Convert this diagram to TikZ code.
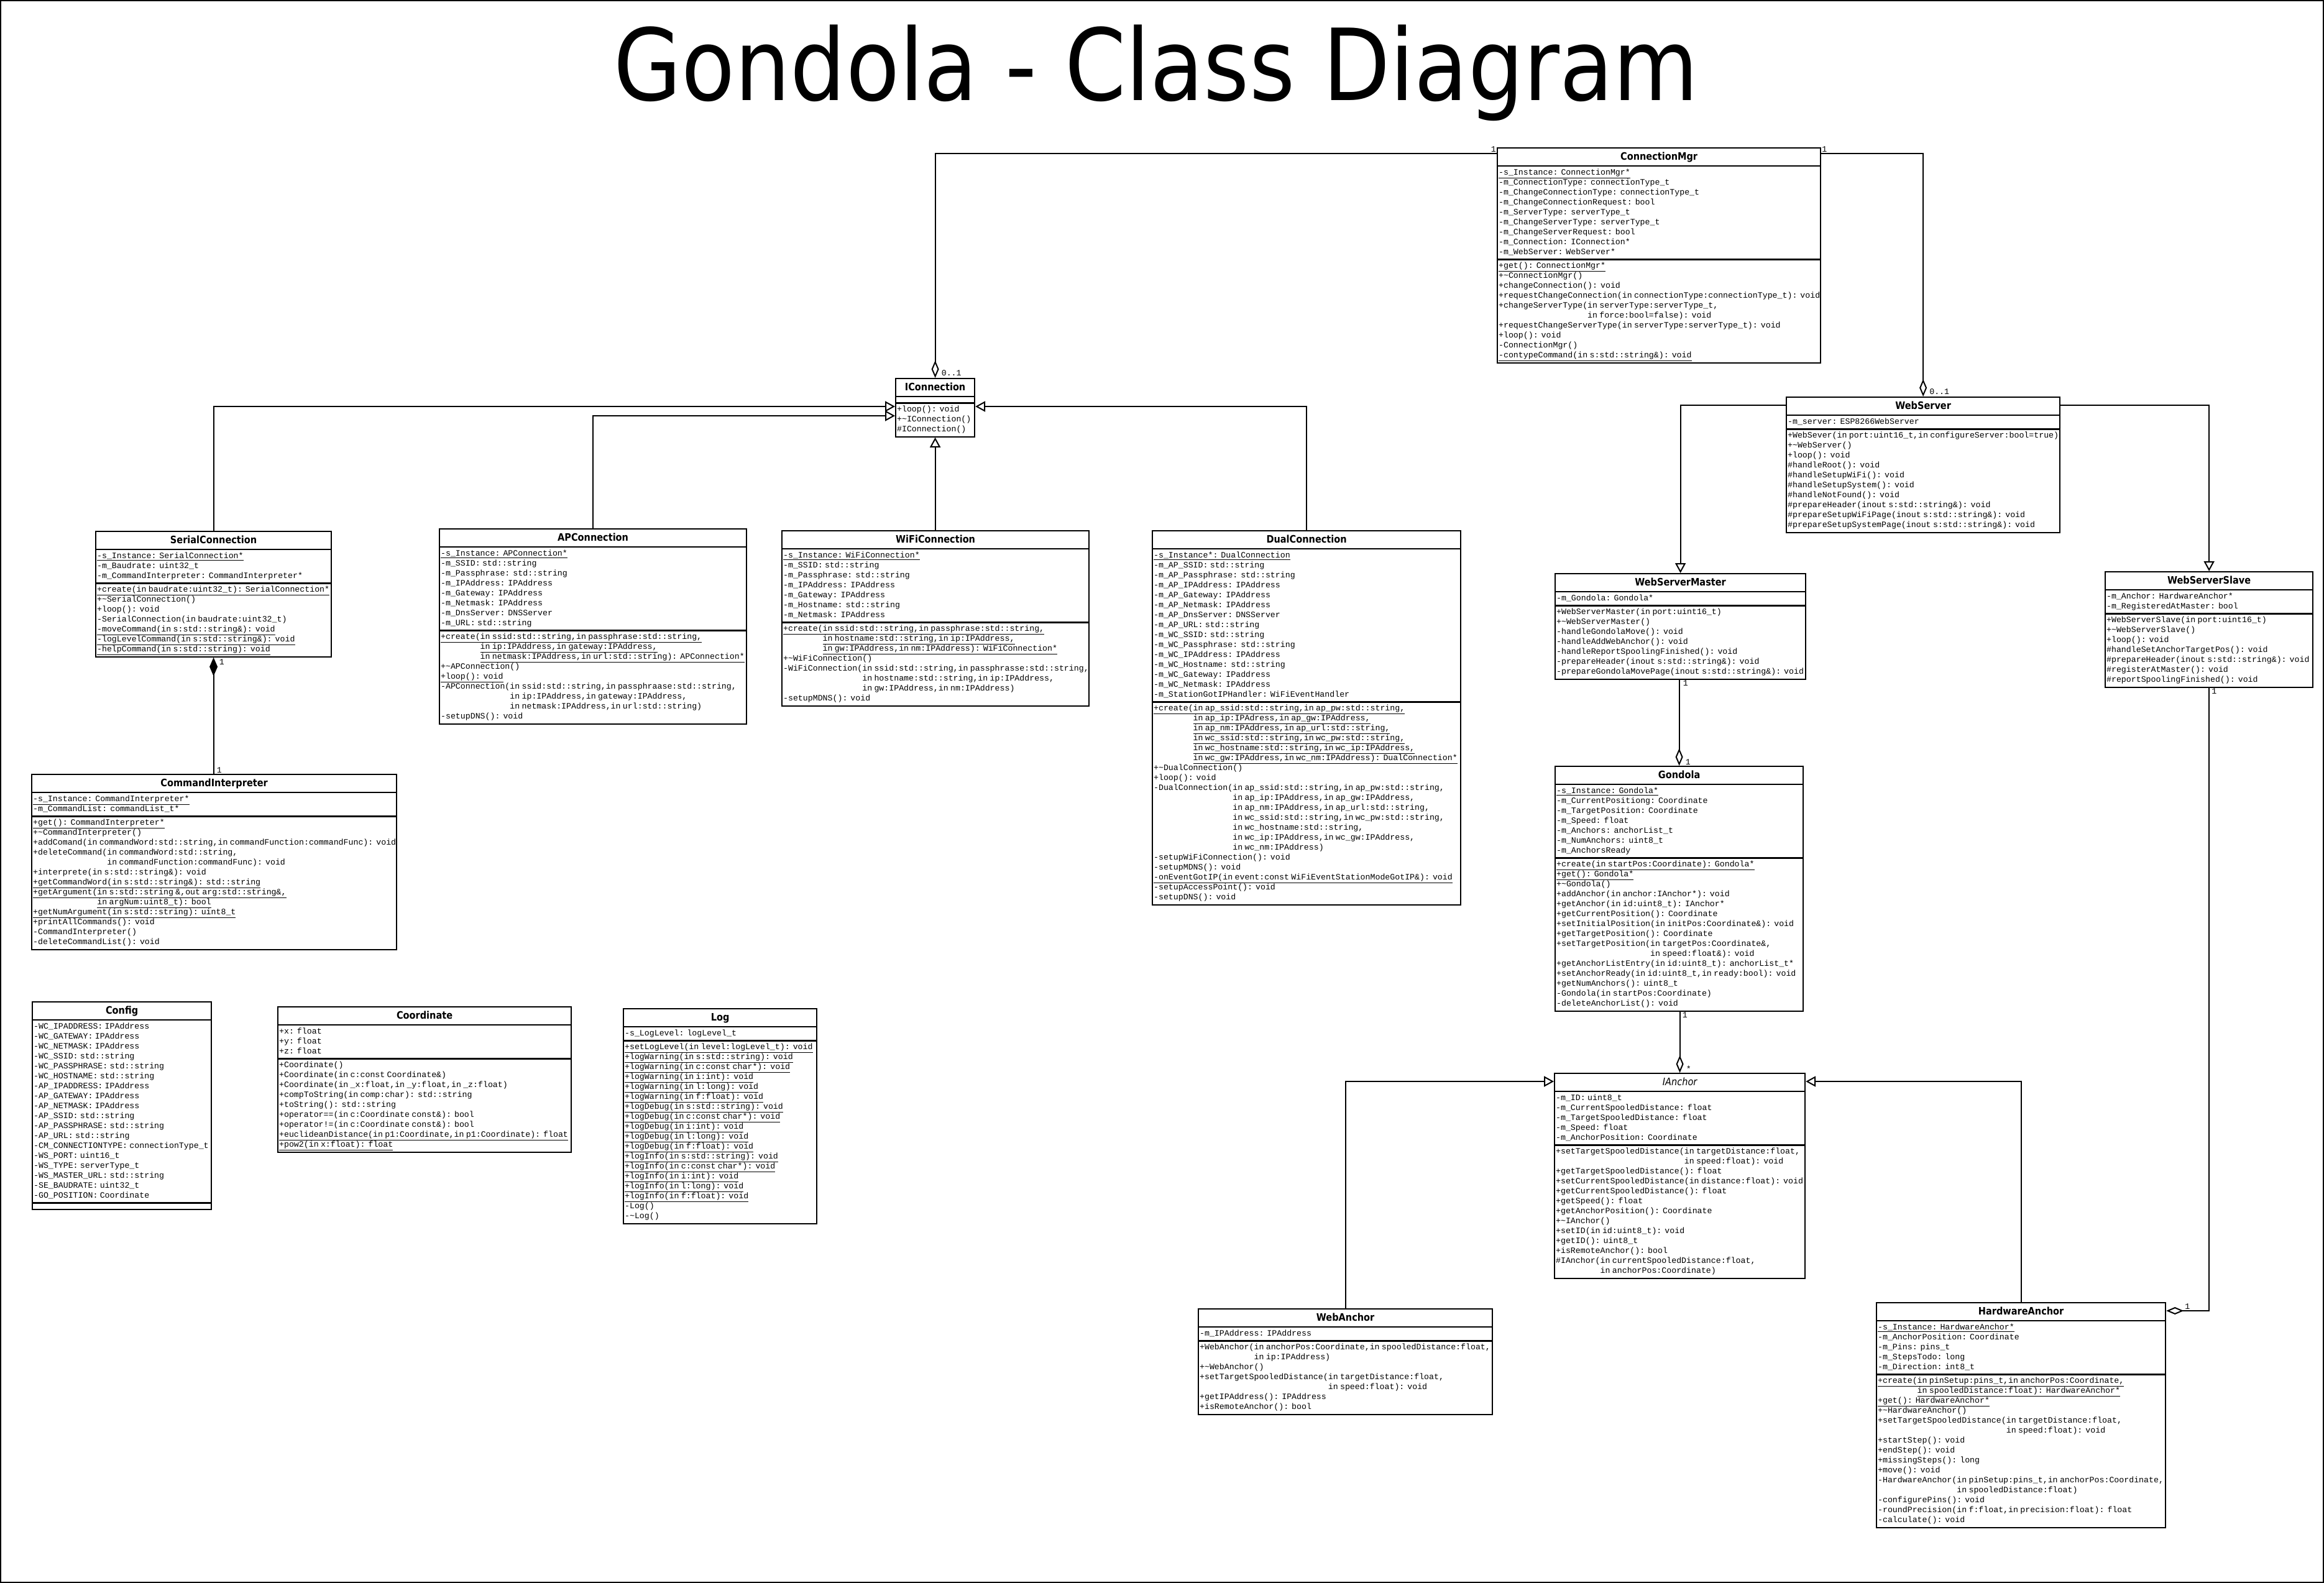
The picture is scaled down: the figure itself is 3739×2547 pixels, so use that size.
\documentclass[tikz,border=0pt]{standalone}
\usepackage{fontspec}
\setmonofont{Liberation Mono}
\newfontfamily\headfont{DejaVu Sans}[FakeStretch=0.88]
\usetikzlibrary{shapes.multipart,arrows.meta}
\newcommand\tld{\textasciitilde}
\newcommand\stat[1]{\underline{#1}}
\newcommand\ind[1]{\hspace*{\dimexpr0.6em*#1\relax}}
\newcommand\memfont{\ttfamily\fontsize{13.25}{16}\selectfont}
\newcommand\ctitle[1]{\noindent\hbox to\hsize{\hss{\headfont\fontsize{16.5}{20}\selectfont\bfseries #1}\rule[-7pt]{0pt}{23pt}\hss}}
\newcommand\atitle[1]{\noindent\hbox to\hsize{\hss{\headfont\fontsize{16.5}{20}\selectfont\itshape #1}\rule[-7pt]{0pt}{23pt}\hss}}
\newcommand\mems[1]{{\memfont\noindent\begin{tabular}{@{}l@{}}#1\end{tabular}}}
\newcommand\nomems{\noindent\rule{0pt}{4pt}}
\begin{document}
\begin{tikzpicture}[x=1pt,y=-1pt,
  umlclass/.style={draw,line width=2.2pt,rectangle split,rectangle split parts=3,anchor=north west,inner xsep=2pt,inner ysep=2pt,align=left},
  link/.style={line width=2pt},
  gen/.style={link,{Triangle[open,length=16pt,width=17pt]}-},
  aggr/.style={link,{Diamond[open,length=28pt,width=12pt]}-},
  comp/.style={link,{Diamond[length=30pt,width=13pt]}-},
  mult/.style={font=\memfont,inner sep=1pt}]
\useasboundingbox (0,0) rectangle (3739,2547);
\draw[line width=2pt] (1,1) rectangle (3738,2546);
\node[anchor=base,font=\headfont\fontsize{160}{190}\selectfont] (title) at (1860,162) {Gondola - Class Diagram};

% connections
\node[umlclass,text width=516pt] (cmgr) at (2408,237) {\ctitle{ConnectionMgr}
\nodepart{two}\mems{\stat{-s\_Instance: ConnectionMgr*}\\
-m\_ConnectionType: connectionType\_t\\
-m\_ChangeConnectionType: connectionType\_t\\
-m\_ChangeConnectionRequest: bool\\
-m\_ServerType: serverType\_t\\
-m\_ChangeServerType: serverType\_t\\
-m\_ChangeServerRequest: bool\\
-m\_Connection: IConnection*\\
-m\_WebServer: WebServer*}
\nodepart{three}\mems{\stat{+get(): ConnectionMgr*}\\
+\tld ConnectionMgr()\\
+changeConnection(): void\\
+requestChangeConnection(in connectionType:connectionType\_t): void\\
+changeServerType(in serverType:serverType\_t,\\
\ind{18}in force:bool=false): void\\
+requestChangeServerType(in serverType:serverType\_t): void\\
+loop(): void\\
-ConnectionMgr()\\
\stat{-contypeCommand(in s:std::string\&): void}}};

\node[umlclass,text width=123pt] (iconn) at (1440,608) {\ctitle{IConnection}
\nodepart{two}\nomems
\nodepart{three}\mems{+loop(): void\\
+\tld IConnection()\\
\#IConnection()}};

\node[umlclass,text width=375pt] (serial) at (153,854) {\ctitle{SerialConnection}
\nodepart{two}\mems{\stat{-s\_Instance: SerialConnection*}\\
-m\_Baudrate: uint32\_t\\
-m\_CommandInterpreter: CommandInterpreter*}
\nodepart{three}\mems{\stat{+create(in baudrate:uint32\_t): SerialConnection*}\\
+\tld SerialConnection()\\
+loop(): void\\
-SerialConnection(in baudrate:uint32\_t)\\
\stat{-moveCommand(in s:std::string\&): void}\\
\stat{-logLevelCommand(in s:std::string\&): void}\\
\stat{-helpCommand(in s:std::string): void}}};

\node[umlclass,text width=490pt] (apconn) at (706,850) {\ctitle{APConnection}
\nodepart{two}\mems{\stat{-s\_Instance: APConnection*}\\
-m\_SSID: std::string\\
-m\_Passphrase: std::string\\
-m\_IPAddress: IPAddress\\
-m\_Gateway: IPAddress\\
-m\_Netmask: IPAddress\\
-m\_DnsServer: DNSServer\\
-m\_URL: std::string}
\nodepart{three}\mems{\stat{+create(in ssid:std::string,in passphrase:std::string,}\\
\ind{8}\stat{in ip:IPAddress,in gateway:IPAddress,}\\
\ind{8}\stat{in netmask:IPAddress,in url:std::string): APConnection*}\\
+\tld APConnection()\\
\stat{+loop(): void}\\
-APConnection(in ssid:std::string,in passphraase:std::string,\\
\ind{14}in ip:IPAddress,in gateway:IPAddress,\\
\ind{14}in netmask:IPAddress,in url:std::string)\\
-setupDNS(): void}};

\node[umlclass,text width=490pt] (wifi) at (1257,853) {\ctitle{WiFiConnection}
\nodepart{two}\mems{\stat{-s\_Instance: WiFiConnection*}\\
-m\_SSID: std::string\\
-m\_Passphrase: std::string\\
-m\_IPAddress: IPAddress\\
-m\_Gateway: IPAddress\\
-m\_Hostname: std::string\\
-m\_Netmask: IPAddress}
\nodepart{three}\mems{\stat{+create(in ssid:std::string,in passphrase:std::string,}\\
\ind{8}\stat{in hostname:std::string,in ip:IPAddress,}\\
\ind{8}\stat{in gw:IPAddress,in nm:IPAddress): WiFiConnection*}\\
+\tld WiFiConnection()\\
-WiFiConnection(in ssid:std::string,in passphrasse:std::string,\\
\ind{16}in hostname:std::string,in ip:IPAddress,\\
\ind{16}in gw:IPAddress,in nm:IPAddress)\\
-setupMDNS(): void}};

\node[umlclass,text width=492pt] (dual) at (1853,853) {\ctitle{DualConnection}
\nodepart{two}\mems{\stat{-s\_Instance*: DualConnection}\\
-m\_AP\_SSID: std::string\\
-m\_AP\_Passphrase: std::string\\
-m\_AP\_IPAddress: IPAddress\\
-m\_AP\_Gateway: IPAddress\\
-m\_AP\_Netmask: IPAddress\\
-m\_AP\_DnsServer: DNSServer\\
-m\_AP\_URL: std::string\\
-m\_WC\_SSID: std::string\\
-m\_WC\_Passphrase: std::string\\
-m\_WC\_IPAddress: IPAddress\\
-m\_WC\_Hostname: std::string\\
-m\_WC\_Gateway: IPaddress\\
-m\_WC\_Netmask: IPAddress\\
-m\_StationGotIPHandler: WiFiEventHandler}
\nodepart{three}\mems{\stat{+create(in ap\_ssid:std::string,in ap\_pw:std::string,}\\
\ind{8}\stat{in ap\_ip:IPAdress,in ap\_gw:IPAddress,}\\
\ind{8}\stat{in ap\_nm:IPAddress,in ap\_url:std::string,}\\
\ind{8}\stat{in wc\_ssid:std::string,in wc\_pw:std::string,}\\
\ind{8}\stat{in wc\_hostname:std::string,in wc\_ip:IPAddress,}\\
\ind{8}\stat{in wc\_gw:IPAddress,in wc\_nm:IPAddress): DualConnection*}\\
+\tld DualConnection()\\
+loop(): void\\
-DualConnection(in ap\_ssid:std::string,in ap\_pw:std::string,\\
\ind{16}in ap\_ip:IPAddress,in ap\_gw:IPAddress,\\
\ind{16}in ap\_nm:IPAddress,in ap\_url:std::string,\\
\ind{16}in wc\_ssid:std::string,in wc\_pw:std::string,\\
\ind{16}in wc\_hostname:std::string,\\
\ind{16}in wc\_ip:IPAddress,in wc\_gw:IPAddress,\\
\ind{16}in wc\_nm:IPAddress)\\
-setupWiFiConnection(): void\\
-setupMDNS(): void\\
\stat{-onEventGotIP(in event:const WiFiEventStationModeGotIP\&): void}\\
-setupAccessPoint(): void\\
-setupDNS(): void}};

\node[umlclass,text width=583pt] (cmdint) at (50,1245) {\ctitle{CommandInterpreter}
\nodepart{two}\mems{\stat{-s\_Instance: CommandInterpreter*}\\
-m\_CommandList: commandList\_t*}
\nodepart{three}\mems{\stat{+get(): CommandInterpreter*}\\
+\tld CommandInterpreter()\\
+addComand(in commandWord:std::string,in commandFunction:commandFunc): void\\
+deleteCommand(in commandWord:std::string,\\
\ind{15}in commandFunction:commandFunc): void\\
+interprete(in s:std::string\&): void\\
\stat{+getCommandWord(in s:std::string\&): std::string}\\
\stat{+getArgument(in s:std::string \&,out arg:std::string\&,}\\
\ind{13}\stat{in argNum:uint8\_t): bool}\\
\stat{+getNumArgument(in s:std::string): uint8\_t}\\
+printAllCommands(): void\\
-CommandInterpreter()\\
-deleteCommandList(): void}};

% web servers
\node[umlclass,text width=436pt] (wsrv) at (2873,638) {\ctitle{WebServer}
\nodepart{two}\mems{-m\_server: ESP8266WebServer}
\nodepart{three}\mems{+WebSever(in port:uint16\_t,in configureServer:bool=true)\\
+\tld WebServer()\\
+loop(): void\\
\#handleRoot(): void\\
\#handleSetupWiFi(): void\\
\#handleSetupSystem(): void\\
\#handleNotFound(): void\\
\#prepareHeader(inout s:std::string\&): void\\
\#prepareSetupWiFiPage(inout s:std::string\&): void\\
\#prepareSetupSystemPage(inout s:std::string\&): void}};

\node[umlclass,text width=399pt] (wsm) at (2501,922) {\ctitle{WebServerMaster}
\nodepart{two}\mems{-m\_Gondola: Gondola*}
\nodepart{three}\mems{+WebServerMaster(in port:uint16\_t)\\
+\tld WebServerMaster()\\
-handleGondolaMove(): void\\
-handleAddWebAnchor(): void\\
-handleReportSpoolingFinished(): void\\
-prepareHeader(inout s:std::string\&): void\\
-prepareGondolaMovePage(inout s:std::string\&): void}};

\node[umlclass,text width=330pt] (wss) at (3386,919) {\ctitle{WebServerSlave}
\nodepart{two}\mems{-m\_Anchor: HardwareAnchor*\\
-m\_RegisteredAtMaster: bool}
\nodepart{three}\mems{+WebServerSlave(in port:uint16\_t)\\
+\tld WebServerSlave()\\
+loop(): void\\
\#handleSetAnchorTargetPos(): void\\
\#prepareHeader(inout s:std::string\&): void\\
\#registerAtMaster(): void\\
\#reportSpoolingFinished(): void}};

% gondola and anchors
\node[umlclass,text width=395pt] (gondola) at (2501,1232) {\ctitle{Gondola}
\nodepart{two}\mems{\stat{-s\_Instance: Gondola*}\\
-m\_CurrentPositiong: Coordinate\\
-m\_TargetPosition: Coordinate\\
-m\_Speed: float\\
-m\_Anchors: anchorList\_t\\
-m\_NumAnchors: uint8\_t\\
-m\_AnchorsReady}
\nodepart{three}\mems{\stat{+create(in startPos:Coordinate): Gondola*}\\
\stat{+get(): Gondola*}\\
+\tld Gondola()\\
+addAnchor(in anchor:IAnchor*): void\\
+getAnchor(in id:uint8\_t): IAnchor*\\
+getCurrentPosition(): Coordinate\\
+setInitialPosition(in initPos:Coordinate\&): void\\
+getTargetPosition(): Coordinate\\
+setTargetPosition(in targetPos:Coordinate\&,\\
\ind{19}in speed:float\&): void\\
+getAnchorListEntry(in id:uint8\_t): anchorList\_t*\\
+setAnchorReady(in id:uint8\_t,in ready:bool): void\\
+getNumAnchors(): uint8\_t\\
-Gondola(in startPos:Coordinate)\\
-deleteAnchorList(): void}};

\node[umlclass,text width=399pt] (ianchor) at (2500,1726) {\atitle{IAnchor}
\nodepart{two}\mems{-m\_ID: uint8\_t\\
-m\_CurrentSpooledDistance: float\\
-m\_TargetSpooledDistance: float\\
-m\_Speed: float\\
-m\_AnchorPosition: Coordinate}
\nodepart{three}\mems{+setTargetSpooledDistance(in targetDistance:float,\\
\ind{26}in speed:float): void\\
+getTargetSpooledDistance(): float\\
+setCurrentSpooledDistance(in distance:float): void\\
+getCurrentSpooledDistance(): float\\
+getSpeed(): float\\
+getAnchorPosition(): Coordinate\\
+\tld IAnchor()\\
+setID(in id:uint8\_t): void\\
+getID(): uint8\_t\\
+isRemoteAnchor(): bool\\
\#IAnchor(in currentSpooledDistance:float,\\
\ind{9}in anchorPos:Coordinate)}};

\node[umlclass,text width=469pt] (webanchor) at (1927,2105) {\ctitle{WebAnchor}
\nodepart{two}\mems{-m\_IPAddress: IPAddress}
\nodepart{three}\mems{+WebAnchor(in anchorPos:Coordinate,in spooledDistance:float,\\
\ind{11}in ip:IPAddress)\\
+\tld WebAnchor()\\
+setTargetSpooledDistance(in targetDistance:float,\\
\ind{26}in speed:float): void\\
+getIPAddress(): IPAddress\\
+isRemoteAnchor(): bool}};

\node[umlclass,text width=461pt] (hwanchor) at (3018,2095) {\ctitle{HardwareAnchor}
\nodepart{two}\mems{\stat{-s\_Instance: HardwareAnchor*}\\
-m\_AnchorPosition: Coordinate\\
-m\_Pins: pins\_t\\
-m\_StepsTodo: long\\
-m\_Direction: int8\_t}
\nodepart{three}\mems{\stat{+create(in pinSetup:pins\_t,in anchorPos:Coordinate,}\\
\ind{8}\stat{in spooledDistance:float): HardwareAnchor*}\\
\stat{+get(): HardwareAnchor*}\\
+\tld HardwareAnchor()\\
+setTargetSpooledDistance(in targetDistance:float,\\
\ind{26}in speed:float): void\\
+startStep(): void\\
+endStep(): void\\
+missingSteps(): long\\
+move(): void\\
-HardwareAnchor(in pinSetup:pins\_t,in anchorPos:Coordinate,\\
\ind{16}in spooledDistance:float)\\
-configurePins(): void\\
-roundPrecision(in f:float,in precision:float): float\\
-calculate(): void}};

% helpers
\node[umlclass,text width=284pt] (config) at (51,1611) {\ctitle{Config}
\nodepart{two}\mems{-WC\_IPADDRESS: IPAddress\\
-WC\_GATEWAY: IPAddress\\
-WC\_NETMASK: IPAddress\\
-WC\_SSID: std::string\\
-WC\_PASSPHRASE: std::string\\
-WC\_HOSTNAME: std::string\\
-AP\_IPADDRESS: IPAddress\\
-AP\_GATEWAY: IPAddress\\
-AP\_NETMASK: IPAddress\\
-AP\_SSID: std::string\\
-AP\_PASSPHRASE: std::string\\
-AP\_URL: std::string\\
-CM\_CONNECTIONTYPE: connectionType\_t\\
-WS\_PORT: uint16\_t\\
-WS\_TYPE: serverType\_t\\
-WS\_MASTER\_URL: std::string\\
-SE\_BAUDRATE: uint32\_t\\
-GO\_POSITION: Coordinate}
\nodepart{three}\nomems};

\node[umlclass,text width=468pt] (coord) at (446,1619) {\ctitle{Coordinate}
\nodepart{two}\mems{+x: float\\
+y: float\\
+z: float}
\nodepart{three}\mems{+Coordinate()\\
+Coordinate(in c:const Coordinate\&)\\
+Coordinate(in \_x:float,in \_y:float,in \_z:float)\\
+compToString(in comp:char): std::string\\
+toString(): std::string\\
+operator==(in c:Coordinate const\&): bool\\
+operator!=(in c:Coordinate const\&): bool\\
\stat{+euclideanDistance(in p1:Coordinate,in p1:Coordinate): float}\\
\stat{+pow2(in x:float): float}}};

\node[umlclass,text width=307pt] (log) at (1002,1622) {\ctitle{Log}
\nodepart{two}\mems{-s\_LogLevel: logLevel\_t}
\nodepart{three}\mems{\stat{+setLogLevel(in level:logLevel\_t): void}\\
\stat{+logWarning(in s:std::string): void}\\
\stat{+logWarning(in c:const char*): void}\\
\stat{+logWarning(in i:int): void}\\
\stat{+logWarning(in l:long): void}\\
\stat{+logWarning(in f:float): void}\\
\stat{+logDebug(in s:std::string): void}\\
\stat{+logDebug(in c:const char*): void}\\
\stat{+logDebug(in i:int): void}\\
\stat{+logDebug(in l:long): void}\\
\stat{+logDebug(in f:float): void}\\
\stat{+logInfo(in s:std::string): void}\\
\stat{+logInfo(in c:const char*): void}\\
\stat{+logInfo(in i:int): void}\\
\stat{+logInfo(in l:long): void}\\
\stat{+logInfo(in f:float): void}\\
-Log()\\
-\tld Log()}};

% relations
\draw[aggr] (iconn.north) |- ([yshift=-10pt]cmgr.north west);
\draw[aggr] (wsrv.north) |- ([yshift=-10pt]cmgr.north east);
\draw[gen] ([yshift=-46pt]iconn.north west) -| (serial.north);
\draw[gen] ([yshift=-61pt]iconn.north west) -| (apconn.north);
\draw[gen] (iconn.south) -- (iconn.south |- wifi.north);
\draw[gen] ([yshift=-46pt]iconn.north east) -| (dual.north);
\draw[comp] (serial.south) -- (serial.south |- cmdint.north);
\draw[gen] (wsm.north) |- ([yshift=-14pt]wsrv.north west);
\draw[gen] (wss.north) |- ([yshift=-14pt]wsrv.north east);
\draw[aggr] (gondola.north) -- (gondola.north |- wsm.south);
\draw[aggr] (ianchor.north) -- (ianchor.north |- gondola.south);
\draw[gen] ([yshift=-14pt]ianchor.north west) -| (webanchor.north);
\draw[gen] ([yshift=-14pt]ianchor.north east) -| (hwanchor.north);
\draw[aggr] ([yshift=-14pt]hwanchor.north east) -| (wss.south);

\node[mult,anchor=south east] (m1) at ([yshift=-9pt]cmgr.north west) {1};
\node[mult,anchor=south west] (m2) at ([yshift=-9pt]cmgr.north east) {1};
\node[mult,anchor=south west] (m3) at ([xshift=9pt,yshift=2pt]iconn.north) {0..1};
\node[mult,anchor=south west] (m4) at ([xshift=9pt,yshift=2pt]wsrv.north) {0..1};
\node[mult,anchor=north west] (m5) at ([xshift=8pt,yshift=-2pt]serial.south) {1};
\node[mult,anchor=south west] (m6) at ([xshift=3pt]cmdint.north) {1};
\node[mult,anchor=north west] (m7) at ([xshift=3pt]wsm.south) {1};
\node[mult,anchor=south west] (m8) at ([xshift=9pt]gondola.north) {1};
\node[mult,anchor=north west] (m9) at ([xshift=4pt]gondola.south) {1};
\node[mult,anchor=south west] (m10) at ([xshift=9pt]ianchor.north) {*};
\node[mult,anchor=north west] (m11) at ([xshift=3pt]wss.south) {1};
\node[mult,anchor=south west] (m12) at ([xshift=29pt,yshift=-13pt]hwanchor.north east) {1};
\end{tikzpicture}
\end{document}
